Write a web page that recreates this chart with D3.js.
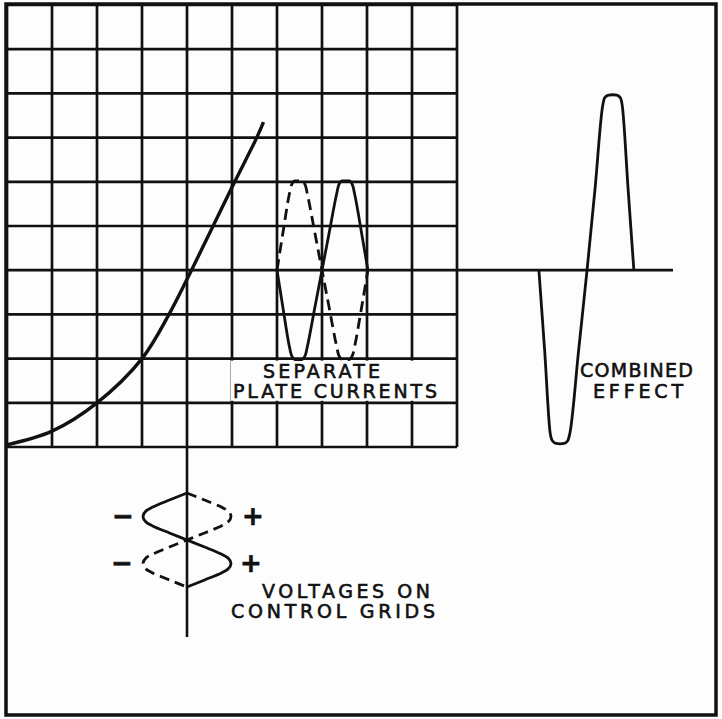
<!DOCTYPE html>
<html lang="en">
<head>
<meta charset="UTF-8">
<title>Push-pull plate currents</title>
<style>
  body { margin: 0; background: #fdfdfd; }
  svg { display: block; }
  .lbl { font-family: "DejaVu Sans", sans-serif; font-size: 19px; fill: #111; stroke: #111; stroke-width: 0.6px; }
</style>
</head>
<body>
<div id="container"></div>
<script src="https://cdn.jsdelivr.net/npm/d3@7"></script>
<script>
// grid divisions (10 x 10 cells)
const gridTicks = [0, 1, 2, 3, 4, 5, 6, 7, 8, 9, 10];

// tube characteristic: plate current vs grid voltage (grid units)
const tubeCurve = [[0, 0.05], [1, 0.36], [2, 1], [3, 2], [3.6, 3], [4.1, 4], [4.58, 5], [5.06, 6], [5.55, 7], [5.7, 7.35]];

// separate plate currents (solid = tube 1, dashed = tube 2)
const plateSolid = [[6.0, 4], [6.14, 3.1], [6.27, 2.3], [6.32, 2.08], [6.4, 1.98], [6.55, 1.98], [6.63, 2.08], [6.68, 2.3],
                    [6.84, 3.15], [7.0, 4], [7.16, 4.85], [7.32, 5.7], [7.37, 5.92], [7.45, 6.02], [7.6, 6.02],
                    [7.68, 5.92], [7.73, 5.7], [7.87, 4.9], [8.02, 4]];
const plateDashed = [[6.0, 4], [6.14, 4.9], [6.27, 5.7], [6.32, 5.92], [6.4, 6.02], [6.55, 6.02], [6.63, 5.92], [6.68, 5.7],
                     [6.84, 4.85], [7.0, 4], [7.16, 3.15], [7.32, 2.3], [7.37, 2.08], [7.45, 1.98], [7.6, 1.98],
                     [7.68, 2.08], [7.73, 2.3], [7.87, 3.1], [8.02, 4]];

// combined effect in output (same vertical units)
const combined = [[11.82, 4], [11.95, 2.15], [12.07, 0.32], [12.12, 0.14], [12.2, 0.08], [12.29, 0.07], [12.38, 0.08],
                  [12.46, 0.14], [12.51, 0.32], [12.7, 2.16], [12.89, 4], [13.07, 5.87], [13.24, 7.74], [13.28, 7.9],
                  [13.37, 7.96], [13.46, 7.97], [13.55, 7.96], [13.63, 7.9], [13.67, 7.74], [13.8, 5.87], [13.93, 4]];
const combinedAxis = [10, 14.8];

// grid voltages: [time, volts] with time running downward
const voltSolid = [[0, 0], [0.15, -0.4], [0.3, -0.78], [0.38, -0.93], [0.5, -1], [0.62, -0.93], [0.7, -0.78], [0.85, -0.4],
                   [1, 0], [1.15, 0.4], [1.3, 0.78], [1.38, 0.93], [1.5, 1], [1.62, 0.93], [1.7, 0.78], [1.85, 0.4], [2, 0]];
const voltDashed = [[0, 0], [0.15, 0.4], [0.3, 0.78], [0.38, 0.93], [0.5, 1], [0.62, 0.93], [0.7, 0.78], [0.85, 0.4],
                    [1, 0], [1.15, -0.4], [1.3, -0.78], [1.38, -0.93], [1.5, -1], [1.62, -0.93], [1.7, -0.78], [1.85, -0.4], [2, 0]];
const biasPoint = 4;

const W = 722, H = 719;
const ink = '#111';

const svg = d3.select('#container').append('svg')
    .attr('width', W).attr('height', H);

const gx = d3.scaleLinear().domain([0, 10]).range([7, 457]);
const gy = d3.scaleLinear().domain([0, 10]).range([447, 5]);
const vx = d3.scaleLinear().domain([-1, 1]).range([gx(biasPoint) - 44, gx(biasPoint) + 44]);
const ty = d3.scaleLinear().domain([0, 2]).range([493, 587]);

// outer frame
svg.append('rect')
    .attr('x', 6).attr('y', 4).attr('width', 710).attr('height', 711)
    .attr('fill', 'none').attr('stroke', ink).attr('stroke-width', 3.5);

// grid
const grid = svg.append('g').attr('stroke', ink).attr('stroke-width', 2.7);
grid.selectAll('line.v').data(gridTicks).enter().append('line')
    .attr('class', 'v')
    .attr('x1', d => gx(d)).attr('x2', d => gx(d))
    .attr('y1', gy(0)).attr('y2', gy(10));
grid.selectAll('line.h').data(gridTicks).enter().append('line')
    .attr('class', 'h')
    .attr('x1', gx(0)).attr('x2', gx(10))
    .attr('y1', d => gy(d)).attr('y2', d => gy(d));

// output axis for combined effect
svg.append('line')
    .attr('x1', gx(combinedAxis[0])).attr('x2', gx(combinedAxis[1]))
    .attr('y1', gy(4)).attr('y2', gy(4))
    .attr('stroke', ink).attr('stroke-width', 2.7);

// blank strip behind the label
svg.append('rect')
    .attr('x', 231).attr('y', gy(2) + 2).attr('width', gx(10) - 231 - 2)
    .attr('height', gy(1) - gy(2) - 4)
    .attr('fill', '#fdfdfd');

const lineX = d3.line().x(d => gx(d[0])).y(d => gy(d[1])).curve(d3.curveMonotoneX);
const lineV = d3.line().x(d => vx(d[1])).y(d => ty(d[0])).curve(d3.curveMonotoneY);

svg.append('path').attr('d', d3.line().x(d => gx(d[0])).y(d => gy(d[1])).curve(d3.curveCatmullRom)(tubeCurve))
    .attr('fill', 'none').attr('stroke', ink).attr('stroke-width', 3.4);

svg.append('path').attr('d', lineX(plateSolid))
    .attr('fill', 'none').attr('stroke', ink).attr('stroke-width', 2.8);
svg.append('path').attr('d', lineX(plateDashed))
    .attr('fill', 'none').attr('stroke', ink).attr('stroke-width', 2.8)
    .attr('stroke-dasharray', '11,6');

svg.append('path').attr('d', lineX(combined))
    .attr('fill', 'none').attr('stroke', ink).attr('stroke-width', 2.8)
    .attr('stroke-linejoin', 'round');

// grid voltage axis
svg.append('line')
    .attr('x1', gx(biasPoint)).attr('x2', gx(biasPoint))
    .attr('y1', gy(0)).attr('y2', 637)
    .attr('stroke', ink).attr('stroke-width', 2.6);

svg.append('path').attr('d', lineV(voltSolid))
    .attr('fill', 'none').attr('stroke', ink).attr('stroke-width', 2.8);
svg.append('path').attr('d', lineV(voltDashed))
    .attr('fill', 'none').attr('stroke', ink).attr('stroke-width', 2.8)
    .attr('stroke-dasharray', '10,6');

// polarity marks
const signs = [['−', 123, 0.5], ['+', 253, 0.5], ['−', 122, 1.5], ['+', 251, 1.5]];
svg.selectAll('text.sign').data(signs).enter().append('text')
    .attr('class', 'lbl sign')
    .attr('x', d => d[1]).attr('y', d => ty(d[2]) + 8)
    .attr('text-anchor', 'middle')
    .style('font-size', '26px').style('font-weight', 'bold')
    .text(d => d[0]);

// labels
const labels = [
    ['SEPARATE', 263, 378, 117],
    ['PLATE CURRENTS', 233, 398, 204],
    ['COMBINED', 580, 377, 113],
    ['EFFECT', 593, 398, 90],
    ['VOLTAGES ON', 262, 598, 168],
    ['CONTROL GRIDS', 231, 618, 204]
];
svg.selectAll('text.name').data(labels).enter().append('text')
    .attr('class', 'lbl name')
    .attr('x', d => d[1]).attr('y', d => d[2])
    .attr('textLength', d => d[3]).attr('lengthAdjust', 'spacing')
    .text(d => d[0]);
</script>
</body>
</html>
